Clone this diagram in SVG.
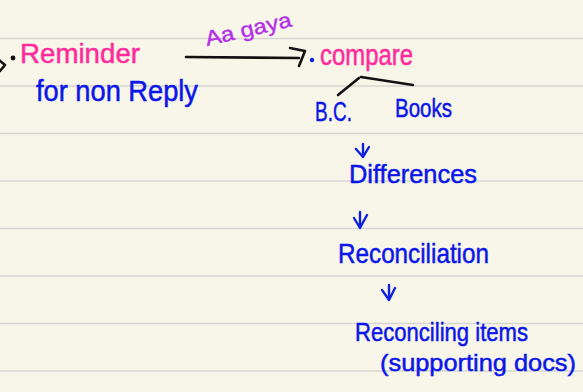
<svg xmlns="http://www.w3.org/2000/svg" width="583" height="392" viewBox="0 0 583 392">
<style>
.rule{stroke:#d6d6d2;stroke-width:1.5}
.ink{fill:none;stroke:#111;stroke-width:2.6;stroke-linecap:round;stroke-linejoin:round}
.bink{fill:none;stroke:#1020e0;stroke-width:2.4;stroke-linecap:round;stroke-linejoin:round}
.pink{fill:#ff2a9c;stroke:#ff2a9c;stroke-width:0.5;font-family:"Liberation Sans",Arial,sans-serif}
.blue{fill:#0b16e8;stroke:#0b16e8;stroke-width:0.5;font-family:"Liberation Sans",Arial,sans-serif}
.purple{fill:#b330e6;stroke:#b330e6;stroke-width:0.4;font-family:"Liberation Sans",Arial,sans-serif}
</style>
<rect width="583" height="392" fill="#f8f6e8"/>
<g id="rules">
<line class="rule" x1="0" y1="38.5" x2="583" y2="38.5"/>
<line class="rule" x1="0" y1="86" x2="583" y2="86"/>
<line class="rule" x1="0" y1="133.5" x2="583" y2="133.5"/>
<line class="rule" x1="0" y1="181" x2="583" y2="181"/>
<line class="rule" x1="0" y1="228.5" x2="583" y2="228.5"/>
<line class="rule" x1="0" y1="276" x2="583" y2="276"/>
<line class="rule" x1="0" y1="323.5" x2="583" y2="323.5"/>
<line class="rule" x1="0" y1="371" x2="583" y2="371"/>
</g>
<g id="connectors">
<path class="ink" d="M-1,60 L5,65 L0,71"/>
<path class="ink" d="M186,57 L299,58"/>
<path class="ink" d="M290,48 L305,51 L299,66"/>
<path class="ink" d="M338,95 L359,78"/>
<path class="ink" d="M361,77 L413,85"/>
<path class="bink" d="M363,144 L363,157 M356,149 L363,157 L369,147"/>
<path class="bink" d="M360,212 L360,228 M354,218 L360,228 L367,215"/>
<path class="bink" d="M389,285 L389,300 M382,290 L389,300 L395,288"/>
</g>
<g id="reminder">
<circle cx="13" cy="58" r="2.4" fill="#111"/>
<text class="pink" x="20" y="63" font-size="28" textLength="120" lengthAdjust="spacingAndGlyphs">Reminder</text>
<text class="blue" x="36" y="101" font-size="29" textLength="162" lengthAdjust="spacingAndGlyphs">for non Reply</text>
</g>
<g id="aagaya">
<text class="purple" x="207" y="46" font-size="21" textLength="88" lengthAdjust="spacingAndGlyphs" transform="rotate(-13 207 46)">Aa gaya</text>
</g>
<g id="compare">
<circle cx="312" cy="60" r="2.2" fill="#1020e0"/>
<text class="pink" x="320" y="65" font-size="29" textLength="93" lengthAdjust="spacingAndGlyphs">compare</text>
</g>
<g id="bc">
<text class="blue" x="315" y="121" font-size="27" textLength="37" lengthAdjust="spacingAndGlyphs">B.C.</text>
</g>
<g id="books">
<text class="blue" x="395" y="117" font-size="26" textLength="57" lengthAdjust="spacingAndGlyphs">Books</text>
</g>
<g id="differences">
<text class="blue" x="349" y="183" font-size="26" textLength="128" lengthAdjust="spacingAndGlyphs">Differences</text>
</g>
<g id="reconciliation">
<text class="blue" x="338" y="263" font-size="28" textLength="151" lengthAdjust="spacingAndGlyphs">Reconciliation</text>
</g>
<g id="reconciling">
<text class="blue" x="355" y="341" font-size="25" textLength="173" lengthAdjust="spacingAndGlyphs">Reconciling items</text>
<text class="blue" x="380" y="371" font-size="24" textLength="196" lengthAdjust="spacingAndGlyphs">(supporting docs)</text>
</g>
</svg>
